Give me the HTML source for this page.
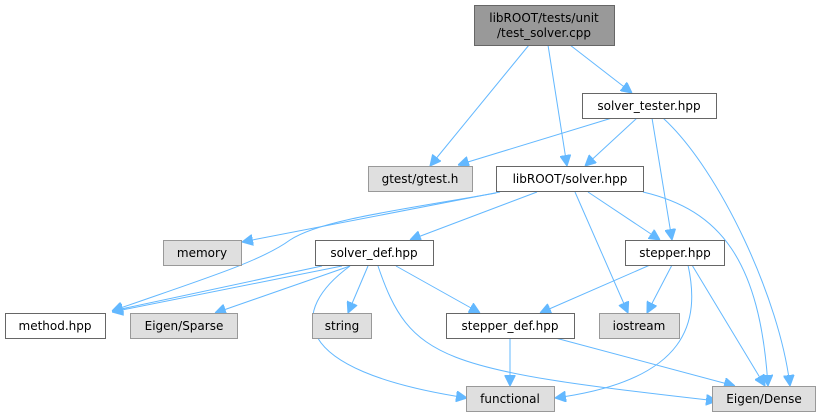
<!DOCTYPE html>
<html><head><meta charset="utf-8"><style>
html,body{margin:0;padding:0;background:#fff;}
svg{display:block;}
text{font-family:"DejaVu Sans","Liberation Sans",sans-serif;font-size:12px;fill:#000;text-anchor:middle;}
.w{fill:#fff;stroke:#666;stroke-width:1;}
.g{fill:#dfdfdf;stroke:#999;stroke-width:1;}
.e{fill:none;stroke:#63b8ff;stroke-width:1;}
</style></head><body>
<svg width="821" height="417" viewBox="0 0 821 417">
<defs><marker id="a" viewBox="0 0 10 10" refX="10" refY="5" markerWidth="11" markerHeight="11" markerUnits="userSpaceOnUse" orient="auto"><path d="M0,0L10,5L0,10z" fill="#63b8ff" stroke="#63b8ff"/></marker></defs>
<g marker-end="url(#a)">
<path class="e" d="M529,45 L430,166"/>
<path class="e" d="M548,45 L567,166"/>
<path class="e" d="M570,45 L632,93"/>
<path class="e" d="M612,118 L458,165"/>
<path class="e" d="M637,118 L585,166"/>
<path class="e" d="M652,118 L672,240"/>
<path class="e" d="M663,118 C720,170 780,300 790,386"/>
<path class="e" d="M500,192 L242,242"/>
<path class="e" d="M496,193 C400,210 320,220 290,240 C260,262 200,280 112,311"/>
<path class="e" d="M537,192 L410,240"/>
<path class="e" d="M588,192 L660,240"/>
<path class="e" d="M575,192 L628,313"/>
<path class="e" d="M643,192 C720,210 760,260 768,386"/>
<path class="e" d="M322,266 L112,311"/>
<path class="e" d="M342,266 L112,312"/>
<path class="e" d="M350,266 L215,313"/>
<path class="e" d="M368,266 L348,313"/>
<path class="e" d="M396,266 L480,313"/>
<path class="e" d="M350,266 C290,310 285,370 467,398"/>
<path class="e" d="M378,266 C410,360 440,370 717,401"/>
<path class="e" d="M650,265 L540,313"/>
<path class="e" d="M672,265 L647,313"/>
<path class="e" d="M688,265 C700,320 690,380 555,398"/>
<path class="e" d="M692,265 L765,386"/>
<path class="e" d="M510,336 L510,386"/>
<path class="e" d="M548,336 L735,386"/>
</g>
<rect x="474.5" y="5.5" width="140" height="40" fill="#999" stroke="#666"/>
<text x="544" y="22">libROOT/tests/unit</text><text x="544" y="37">/test_solver.cpp</text>
<rect class="w" x="582.5" y="93.5" width="134" height="25"/><text x="649" y="110">solver_tester.hpp</text>
<rect class="g" x="368.5" y="166.5" width="104" height="25"/><text x="420" y="183">gtest/gtest.h</text>
<rect class="w" x="496.5" y="166.5" width="147" height="25"/><text x="570" y="183">libROOT/solver.hpp</text>
<rect class="g" x="163.5" y="240.5" width="78" height="25"/><text x="202" y="257">memory</text>
<rect class="w" x="315.5" y="240.5" width="118" height="25"/><text x="374" y="257">solver_def.hpp</text>
<rect class="w" x="625.5" y="240.5" width="99" height="25"/><text x="675" y="257">stepper.hpp</text>
<rect class="w" x="5.5" y="313.5" width="100" height="25"/><text x="55" y="330">method.hpp</text>
<rect class="g" x="130.5" y="313.5" width="107" height="25"/><text x="184" y="330">Eigen/Sparse</text>
<rect class="g" x="312.5" y="313.5" width="59" height="25"/><text x="342" y="330">string</text>
<rect class="w" x="446.5" y="313.5" width="128" height="25"/><text x="510" y="330">stepper_def.hpp</text>
<rect class="g" x="599.5" y="313.5" width="80" height="25"/><text x="639" y="330">iostream</text>
<rect class="g" x="466.5" y="386.5" width="88" height="25"/><text x="510" y="403">functional</text>
<rect class="g" x="712.5" y="386.5" width="103" height="25"/><text x="764" y="403">Eigen/Dense</text>
</svg>
</body></html>
